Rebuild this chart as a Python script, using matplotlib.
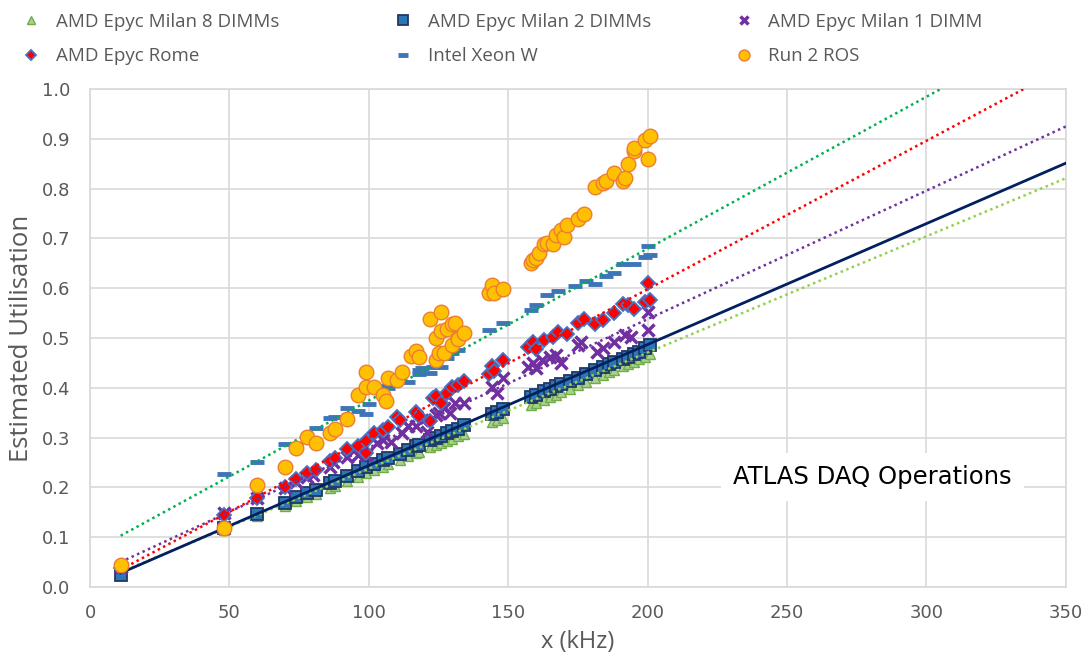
import numpy as np
import matplotlib
matplotlib.use("Agg")
import matplotlib.pyplot as plt

# ---------------------------------------------
# data
#
x_sweep = [11, 48, 60, 70, 74, 78, 81, 86, 88, 92, 96, 99, 102, 105, 107, 111, 114, 117, 118, 122,
           124, 126, 128, 130, 132, 134, 144, 146, 148, 158, 160, 163, 165, 167, 169, 172, 175, 178, 181, 184,
           186, 188, 191, 193, 195, 197, 199, 201]

milan8_y = [0.030, 0.115, 0.143, 0.163, 0.172, 0.180, 0.187, 0.199, 0.203, 0.212, 0.221, 0.228, 0.235, 0.241, 0.246,
            0.255, 0.262, 0.269, 0.271, 0.281, 0.285, 0.290, 0.294, 0.298, 0.303, 0.308, 0.331, 0.335, 0.340, 0.365,
            0.370, 0.376, 0.381, 0.386, 0.391, 0.398, 0.405, 0.412, 0.419, 0.426, 0.431, 0.436, 0.443, 0.448, 0.452,
            0.457, 0.462, 0.468]

milan2_y = [0.025, 0.118, 0.146, 0.168, 0.180, 0.188, 0.195, 0.208, 0.213, 0.222, 0.232, 0.240, 0.247, 0.254, 0.258,
            0.268, 0.275, 0.283, 0.285, 0.295, 0.300, 0.304, 0.310, 0.314, 0.318, 0.325, 0.348, 0.352, 0.357, 0.382,
            0.386, 0.393, 0.398, 0.403, 0.408, 0.414, 0.420, 0.428, 0.435, 0.442, 0.447, 0.452, 0.458, 0.462, 0.467,
            0.472, 0.479, 0.486]

milan1_x = [11, 48, 60, 70, 74, 78, 80, 86, 87, 92, 96, 99, 103, 105, 108, 112, 114, 117, 119, 121,
            124, 125, 127, 129, 131, 134, 144, 146, 148, 157, 159, 160, 162, 165, 167, 169, 175, 176, 182, 184,
            188, 192, 194, 200, 200]
milan1_y = [0.040, 0.148, 0.178, 0.199, 0.210, 0.220, 0.225, 0.240, 0.251, 0.261, 0.265, 0.265, 0.289, 0.295, 0.291,
            0.309, 0.323, 0.323, 0.335, 0.311, 0.345, 0.349, 0.360, 0.349, 0.370, 0.370, 0.402, 0.390, 0.420, 0.442,
            0.450, 0.440, 0.456, 0.462, 0.466, 0.450, 0.486, 0.492, 0.472, 0.480, 0.492, 0.506, 0.502, 0.516, 0.552]

rome_x = [11, 48, 60, 70, 74, 78, 81, 86, 88, 92, 96, 99, 99, 102, 105, 107, 110, 111, 117, 118,
          122, 123, 124, 126, 128, 130, 132, 134, 143, 144, 145, 148, 157, 159, 160, 163, 166, 168, 171, 175,
          177, 181, 184, 188, 191, 193, 195, 199, 200, 201]
rome_y = [0.038, 0.145, 0.179, 0.200, 0.216, 0.228, 0.235, 0.253, 0.259, 0.277, 0.283, 0.269, 0.293, 0.309, 0.315,
          0.321, 0.341, 0.335, 0.351, 0.343, 0.333, 0.380, 0.384, 0.370, 0.390, 0.402, 0.406, 0.414, 0.428, 0.444,
          0.434, 0.456, 0.482, 0.492, 0.478, 0.496, 0.502, 0.512, 0.508, 0.530, 0.538, 0.528, 0.536, 0.550, 0.568,
          0.566, 0.558, 0.572, 0.610, 0.576]

intel_x = [48, 60, 70, 74, 81, 86, 88, 92, 96, 99, 100, 107, 107, 114, 118, 118, 119, 122, 123, 126,
           128, 130, 132, 143, 148, 158, 160, 164, 168, 174, 178, 181, 185, 188, 191, 195, 199, 201, 200]
intel_y = [0.227, 0.251, 0.287, 0.287, 0.320, 0.339, 0.341, 0.359, 0.353, 0.347, 0.367, 0.400, 0.404, 0.412, 0.436,
           0.428, 0.440, 0.430, 0.442, 0.442, 0.460, 0.470, 0.476, 0.516, 0.530, 0.556, 0.566, 0.586, 0.594, 0.604,
           0.614, 0.608, 0.624, 0.630, 0.649, 0.649, 0.663, 0.667, 0.685]

ros_x = [11, 48, 60, 70, 74, 78, 81, 86, 88, 92, 96, 99, 99, 102, 105, 106, 107, 110, 112, 115,
         117, 118, 122, 124, 124, 125, 126, 127, 128, 130, 130, 131, 132, 132, 134, 143, 144, 145, 148, 158,
         159, 160, 161, 163, 164, 166, 167, 169, 170, 171, 175, 177, 181, 184, 185, 188, 191, 192, 193, 195,
         195, 199, 200, 201, 126]
ros_y = [0.044, 0.118, 0.205, 0.240, 0.279, 0.301, 0.289, 0.309, 0.317, 0.337, 0.386, 0.432, 0.402, 0.402, 0.386,
         0.373, 0.420, 0.416, 0.432, 0.464, 0.474, 0.462, 0.538, 0.456, 0.500, 0.470, 0.514, 0.470, 0.518, 0.528,
         0.486, 0.530, 0.500, 0.498, 0.510, 0.590, 0.606, 0.590, 0.598, 0.651, 0.657, 0.660, 0.671, 0.689, 0.691,
         0.689, 0.707, 0.717, 0.703, 0.727, 0.739, 0.749, 0.803, 0.811, 0.815, 0.831, 0.815, 0.821, 0.849, 0.875,
         0.881, 0.898, 0.859, 0.906, 0.552]

# linear trend lines (slope, intercept) as shown on the chart
trend_milan8 = (0.002333, 0.0043)
trend_milan2 = (0.002428, 0.0013)
trend_milan1 = (0.00258, 0.0218)
trend_rome = (0.00298, 0.002)
trend_intel = (0.00305, 0.0694)

x_ticks = [0, 50, 100, 150, 200, 250, 300, 350]
y_ticks = [0.0, 0.1, 0.2, 0.3, 0.4, 0.5, 0.6, 0.7, 0.8, 0.9, 1.0]

# ---------------------------------------------
fig = plt.figure(figsize=(10.91, 6.68), dpi=100)
ax = fig.add_axes([0.0825, 0.1213, 0.8945, 0.7455])

grey = "#595959"
dots = (0, (1, 1.4))

h_m8, = ax.plot(x_sweep, milan8_y, ls="none", marker="^", ms=7, mfc="#A9D18E", mec="#70AD47", mew=1, zorder=3)
h_m2, = ax.plot(x_sweep, milan2_y, ls="none", marker="s", ms=9, mfc="#2E75B6", mec="#1F3864", mew=1.3, zorder=3)
h_m1, = ax.plot(milan1_x, milan1_y, ls="none", marker="x", ms=8, color="#7030A0", mew=2.5, zorder=3)
h_ro, = ax.plot(rome_x, rome_y, ls="none", marker="D", ms=7, mfc="#FF0000", mec="#4472C4", mew=1.3, zorder=3)
h_in, = ax.plot(intel_x, intel_y, ls="none", marker="_", ms=10, color="#3E74B8", mew=3.5, zorder=3)
h_os, = ax.plot(ros_x, ros_y, ls="none", marker="o", ms=10.5, mfc="#FFC000", mec="#ED7D31", mew=1, zorder=4)

# trend lines from first point to the right edge
xt = np.array([11, 350])
for (m, b), col, ls, lw in [(trend_milan8, "#92D050", dots, 1.8),
                            (trend_milan1, "#7030A0", dots, 1.8),
                            (trend_rome, "#FF0000", dots, 1.8),
                            (trend_intel, "#00B050", dots, 1.8),
                            (trend_milan2, "#002060", "-", 2.0)]:
    ax.plot(xt, m * xt + b, color=col, ls=ls, lw=lw, zorder=3.5)

ax.set_xlim(0, 350)
ax.set_ylim(0, 1.0)
ax.set_xticks(x_ticks)
ax.set_yticks(y_ticks)
ax.set_yticklabels(["%.1f" % v for v in y_ticks])
ax.tick_params(length=0, labelsize=13, colors=grey)
ax.tick_params(axis="x", pad=12)
ax.tick_params(axis="y", pad=14)
ax.grid(True, color="#D9D9D9", lw=1.2)
ax.set_axisbelow(True)
for s in ax.spines.values():
    s.set_color("#D9D9D9")
    s.set_linewidth(1.2)

ax.set_xlabel("x (kHz)", fontsize=17, color=grey, family="Open Sans", labelpad=6)
ax.set_ylabel("Estimated Utilisation", fontsize=18.5, color=grey, family="Open Sans", labelpad=6)

ax.text(280.7, 0.221, "ATLAS DAQ Operations", fontsize=17.5, ha="center", va="center", zorder=5,
        bbox=dict(boxstyle="square,pad=0.5", fc="white", ec="none"))

# legend: three columns of two entries each
cols = [([h_m8, h_ro], ["AMD Epyc Milan 8 DIMMs", "AMD Epyc Rome"], 0.0047),
        ([h_m2, h_in], ["AMD Epyc Milan 2 DIMMs", "Intel Xeon W"], 0.3457),
        ([h_m1, h_os], ["AMD Epyc Milan 1 DIMM", "Run 2 ROS"], 0.6576)]
for hs, labs, xl in cols:
    fig.legend(hs, labs, loc="upper left", bbox_to_anchor=(xl, 1.006), frameon=False,
               prop={"family": "Open Sans", "size": 13.5}, labelcolor=grey, markerscale=0.75,
               handlelength=1.0, handletextpad=0.8, labelspacing=0.87)

fig.savefig("out.png", dpi=100)
